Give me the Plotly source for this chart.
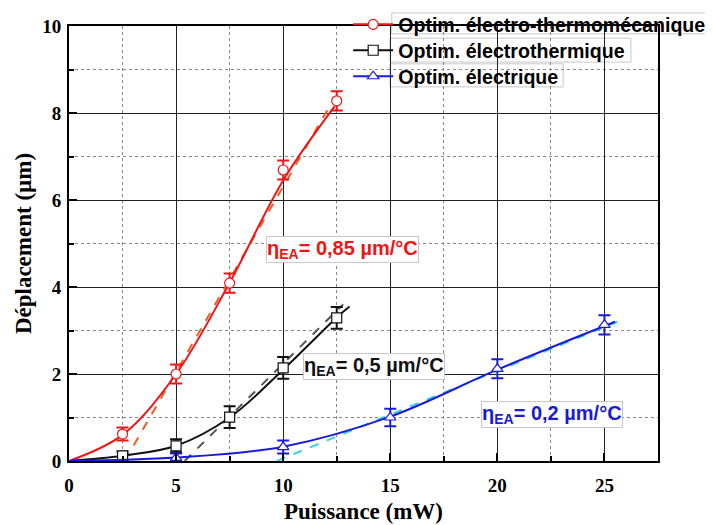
import plotly.graph_objects as go

# points mesures (mW, um) et barres d'erreur
x_etm = [2.5, 5, 7.5, 10, 12.5]
y_etm = [0.62, 2.0, 4.09, 6.69, 8.28]
err_etm = [0.15, 0.22, 0.22, 0.22, 0.22]

x_et = [2.5, 5, 7.5, 10, 12.5]
y_et = [0.12, 0.35, 1.01, 2.14, 3.29]
err_et = [0.1, 0.15, 0.25, 0.25, 0.25]

x_e = [5, 10, 15, 20, 25]
y_e = [0.07, 0.32, 1.0, 2.12, 3.13]
err_e = [0.1, 0.15, 0.2, 0.22, 0.22]

# courbes lissees
cx_etm = [0, 2.5, 5, 7.5, 10, 12.4]
cy_etm = [0, 0.6, 2.0, 4.1, 6.45, 8.15]
cx_et = [0, 2.5, 5, 7.5, 10, 12.5, 13.1]
cy_et = [0, 0.12, 0.35, 1.0, 2.1, 3.3, 3.55]
cx_e = [0, 5, 10, 15, 20, 25.5]
cy_e = [0, 0.08, 0.33, 1.02, 2.1, 3.2]

# droites de pente (tirets)
dx_etm = [2.6, 12.1]
dy_etm = [0, 8.1]
dx_et = [5.4, 12.8]
dy_et = [0, 3.6]
dx_e = [9.7, 25.6]
dy_e = [0, 3.2]

names = ["Optim. électro-thermomécanique", "Optim. électrothermique", "Optim. électrique"]
RED, BLACK, BLUE = "#f01414", "#111111", "#1a1ad8"

fig = go.Figure()

def add_series(px, py, perr, cx, cy, dx, dy, color, dcolor, symbol):
    fig.add_trace(go.Scatter(x=dx, y=dy, mode="lines", showlegend=False,
                             line=dict(color=dcolor, width=2, dash="dash")))
    fig.add_trace(go.Scatter(x=cx, y=cy, mode="lines", showlegend=False,
                             line=dict(color=color, width=2, shape="spline", smoothing=1.0)))
    fig.add_trace(go.Scatter(x=px, y=py, mode="markers", showlegend=False,
                             marker=dict(symbol=symbol, size=10, color="white",
                                         line=dict(color=color, width=1.2)),
                             error_y=dict(type="data", array=perr, color=color,
                                          thickness=2, width=6)))

add_series(x_etm, y_etm, err_etm, cx_etm, cy_etm, dx_etm, dy_etm, RED, "#e8602a", "circle")
add_series(x_et, y_et, err_et, cx_et, cy_et, dx_et, dy_et, BLACK, "#555555", "square")
add_series(x_e, y_e, err_e, cx_e, cy_e, dx_e, dy_e, BLUE, "#35d3e0", "triangle-up")

# entrees de legende : une legende par serie pour regler l'espacement
leg_ids = ["legend", "legend2", "legend3"]
leg_y = [1.048, 0.9885, 0.9287]
for n, c, s, lid in zip(names, [RED, BLACK, BLUE], ["circle", "square", "triangle-up"], leg_ids):
    fig.add_trace(go.Scatter(x=[None], y=[None], mode="lines+markers", name=n,
                             legend=lid,
                             line=dict(color=c, width=2),
                             marker=dict(symbol=s, size=10, color="white",
                                         line=dict(color=c, width=1.2))))

# cadres de legende
for x0, x1, y0, y1 in [(0.548, 1.093, 0.982, 1.030),
                       (0.545, 0.954, 0.917, 0.972),
                       (0.545, 0.839, 0.860, 0.913)]:
    fig.add_shape(type="rect", xref="paper", yref="paper", x0=x0, x1=x1, y0=y0, y1=y1,
                  line=dict(color="#c8c8c8", width=1), layer="below")

# annotations de pente
for txt, xx, yy, c in [("η<sub>EA</sub>= 0,85 µm/°C", 12.75, 4.87, RED),
                       ("η<sub>EA</sub>= 0,5 µm/°C", 14.24, 2.18, BLACK),
                       ("η<sub>EA</sub>= 0,2 µm/°C", 22.55, 1.06, BLUE)]:
    fig.add_annotation(x=xx, y=yy, text=txt, showarrow=False,
                       font=dict(family="Liberation Sans", size=20, color=c, weight="bold"),
                       bgcolor="white", bordercolor="#c8c8c8", borderwidth=1, borderpad=0)

axis_common = dict(
    showline=True, linecolor="black", linewidth=2, mirror=True,
    ticks="inside", ticklen=8, tickwidth=1.5, tickcolor="black",
    showgrid=True, gridcolor="#222222", gridwidth=1, zeroline=False,
    tickfont=dict(family="Liberation Serif", size=19, color="black", weight="bold"),
)

fig.update_xaxes(range=[0, 27.5], dtick=5, tick0=0, ticklabelstandoff=6,
                 minor=dict(dtick=2.5, ticks="inside", ticklen=5, tickcolor="black",
                            showgrid=True, gridcolor="#888888", griddash="dot", gridwidth=1),
                 title=dict(text="Puissance (mW)", standoff=8,
                            font=dict(family="Liberation Serif", size=23, color="black", weight="bold")),
                 **axis_common)
fig.update_yaxes(range=[0, 10], dtick=2, tick0=0, ticklabelstandoff=2,
                 minor=dict(dtick=1, ticks="inside", ticklen=5, tickcolor="black",
                            showgrid=True, gridcolor="#888888", griddash="dot", gridwidth=1),
                 title=dict(text="Déplacement (µm)", standoff=4,
                            font=dict(family="Liberation Serif", size=23, color="black", weight="bold")),
                 **axis_common)

leg_style = dict(x=0.474, xanchor="left", yanchor="top",
                 bgcolor="rgba(0,0,0,0)", borderwidth=0, itemwidth=40,
                 font=dict(family="Liberation Sans", size=19.6, color="black", weight="bold"))

fig.update_layout(
    width=713, height=525,
    margin=dict(l=61, r=63, t=18, b=72, autoexpand=False),
    plot_bgcolor="white", paper_bgcolor="white",
    legend=dict(y=leg_y[0], **leg_style),
    legend2=dict(y=leg_y[1], **leg_style),
    legend3=dict(y=leg_y[2], **leg_style),
)

fig.write_html("out.html")
